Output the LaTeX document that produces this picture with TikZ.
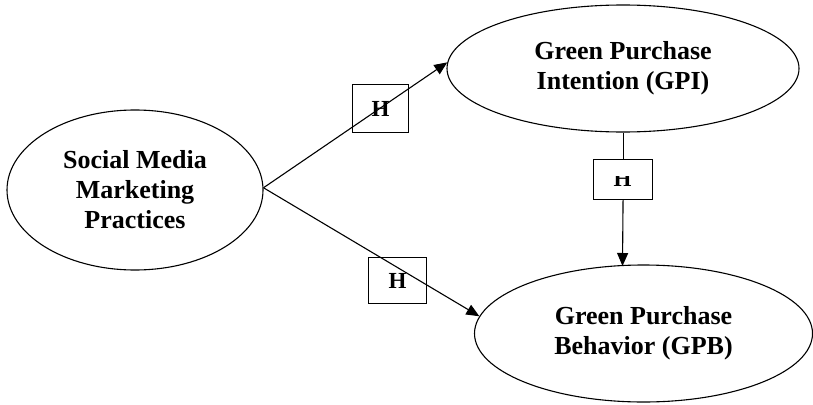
\documentclass[tikz,border=0pt]{standalone}
\usepackage{fontspec}
\setmainfont{Liberation Serif}
\usetikzlibrary{shapes.geometric,arrows.meta}
\begin{document}
\begin{tikzpicture}[x=1pt,y=-1pt,
  construct/.style={draw, ellipse, line width=1.1pt, inner sep=0pt, align=center,
    font=\fontsize{26}{30}\selectfont\bfseries},
  hbox/.style={draw, line width=1.1pt, inner sep=0pt, anchor=north west},
  hlabel/.style={font=\fontsize{23}{26}\selectfont\bfseries, inner sep=0pt},
  link/.style={line width=1.1pt, -{Triangle[length=13pt,width=11pt]}}]
\useasboundingbox (0,0) rectangle (813,404);
\node[construct, minimum width=256pt, minimum height=160pt] (smm) at (135,190) {Social Media\\Marketing\\Practices};
\node[construct, minimum width=352pt, minimum height=127pt] (gpi) at (623,68.5) {Green Purchase\\Intention (GPI)};
\node[construct, minimum width=338pt, minimum height=137pt] (gpb) at (643.5,333.5) {Green Purchase\\Behavior (GPB)};
% box 2 filled
\node[hbox, fill=white, minimum width=59pt, minimum height=40pt] (b2) at (593,159) {};
\draw[line width=1.1pt] (b2.north |- gpi.south) -- (b2.north);
\begin{scope}
\clip (593,176.5) rectangle (652,199);
\node[hlabel] (h2) at (622.5,179) {H};
\end{scope}
\coordinate (gpbtop) at (622.5,266);
\draw[link] (b2.south) -- (gpbtop);
% arrows
\draw[link] (smm.1) -- (gpi.178);
\draw[link] (smm.1) -- (gpb.174);
% boxes 1 and 3 (not filled)
\node[hbox, minimum width=56pt, minimum height=48pt] (b1) at (352,84) {};
\node[hlabel] (h1) at (b1.center) {H};
\node[hbox, minimum width=58pt, minimum height=46pt] (b3) at (368,257) {};
\node[hlabel] (h3) at (b3.center) {H};
\end{tikzpicture}
\end{document}
